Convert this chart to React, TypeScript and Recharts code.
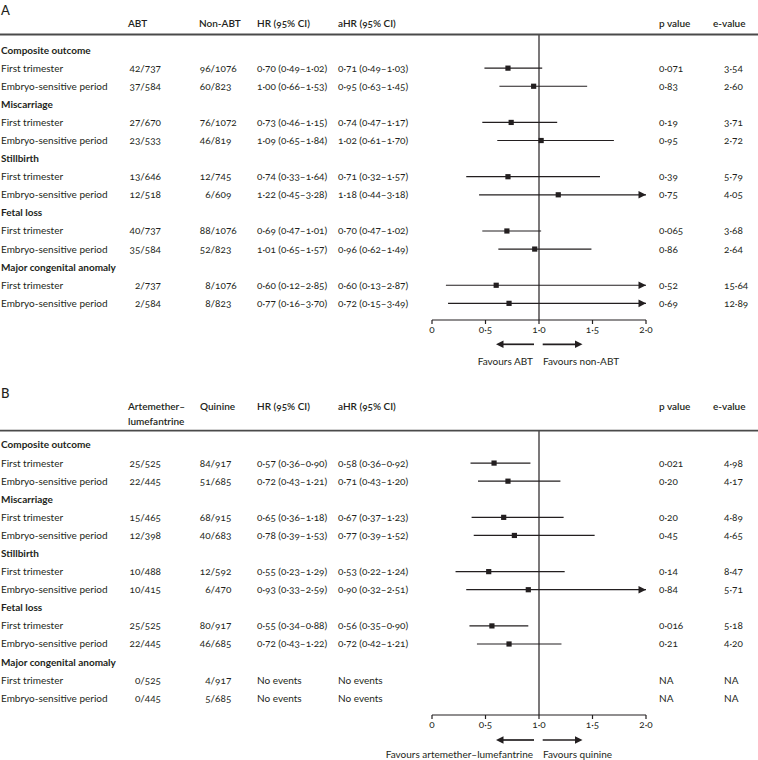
import React from 'react';
import { ComposedChart, Scatter, ErrorBar, XAxis, YAxis, ReferenceLine } from 'recharts';

// ---------- shared ----------
const outcomes = ['Composite outcome', 'Miscarriage', 'Stillbirth', 'Fetal loss', 'Major congenital anomaly'];
const periods = ['First trimester', 'Embryo-sensitive period'];
const xTicks = [0, 0.5, 1, 1.5, 2];
const X_MAX = 2;

// ---------- panel A: ABT vs non-ABT ----------
const abtEvents = ['42/737', '37/584', '27/670', '23/533', '13/646', '12/518', '40/737', '35/584', '2/737', '2/584'];
const nonAbtEvents = ['96/1076', '60/823', '76/1072', '46/819', '12/745', '6/609', '88/1076', '52/823', '8/1076', '8/823'];
const hrA = [0.70, 1.00, 0.73, 1.09, 0.74, 1.22, 0.69, 1.01, 0.60, 0.77];
const hrLoA = [0.49, 0.66, 0.46, 0.65, 0.33, 0.45, 0.47, 0.65, 0.12, 0.16];
const hrHiA = [1.02, 1.53, 1.15, 1.84, 1.64, 3.28, 1.01, 1.57, 2.85, 3.70];
const ahrA = [0.71, 0.95, 0.74, 1.02, 0.71, 1.18, 0.70, 0.96, 0.60, 0.72];
const ahrLoA = [0.49, 0.63, 0.47, 0.61, 0.32, 0.44, 0.47, 0.62, 0.13, 0.15];
const ahrHiA = [1.03, 1.45, 1.17, 1.70, 1.57, 3.18, 1.02, 1.49, 2.87, 3.49];
const pA = ['0·071', '0·83', '0·19', '0·95', '0·39', '0·75', '0·065', '0·86', '0·52', '0·69'];
const eA = ['3·54', '2·60', '3·71', '2·72', '5·79', '4·05', '3·68', '2·64', '15·64', '12·89'];

// ---------- panel B: artemether-lumefantrine vs quinine ----------
const alEvents = ['25/525', '22/445', '15/465', '12/398', '10/488', '10/415', '25/525', '22/445', '0/525', '0/445'];
const quinineEvents = ['84/917', '51/685', '68/915', '40/683', '12/592', '6/470', '80/917', '46/685', '4/917', '5/685'];
const hrB = [0.57, 0.72, 0.65, 0.78, 0.55, 0.93, 0.55, 0.72, null, null];
const hrLoB = [0.36, 0.43, 0.36, 0.39, 0.23, 0.33, 0.34, 0.43, null, null];
const hrHiB = [0.90, 1.21, 1.18, 1.53, 1.29, 2.59, 0.88, 1.22, null, null];
const ahrB = [0.58, 0.71, 0.67, 0.77, 0.53, 0.90, 0.56, 0.72, null, null];
const ahrLoB = [0.36, 0.43, 0.37, 0.39, 0.22, 0.32, 0.35, 0.42, null, null];
const ahrHiB = [0.92, 1.20, 1.23, 1.52, 1.24, 2.51, 0.90, 1.21, null, null];
const pB = ['0·021', '0·20', '0·20', '0·45', '0·14', '0·84', '0·016', '0·21', 'NA', 'NA'];
const eB = ['4·98', '4·17', '4·89', '4·65', '8·47', '5·71', '5·18', '4·20', 'NA', 'NA'];

// ---------- styling ----------
const FONT = "Lato, 'Open Sans', 'DejaVu Sans', sans-serif";
const INK = '#231f20';
const FS = 10;
const NUMSTYLE = { fontVariantNumeric: 'oldstyle-nums tabular-nums' };

const fmt = (v: number) => v.toFixed(2).replace('.', '\u00b7');
const fmtTick = (v: number) => (v === 0 ? '0' : v.toFixed(1).replace('.', '\u00b7'));
const ciText = (e: number | null, lo: number | null, hi: number | null) =>
  e == null || lo == null || hi == null ? 'No events' : `${fmt(e)} (${fmt(lo)}\u2013${fmt(hi)})`;

type Row = {
  head: boolean;
  label: string;
  g1?: string;
  g2?: string;
  hr?: string;
  ahr?: string;
  p?: string;
  e?: string;
  est?: number | null;
  lo?: number | null;
  hi?: number | null;
};

function buildRows(
  g1: string[], g2: string[],
  hr: (number | null)[], hrLo: (number | null)[], hrHi: (number | null)[],
  ahr: (number | null)[], ahrLo: (number | null)[], ahrHi: (number | null)[],
  p: string[], e: string[],
): Row[] {
  const rows: Row[] = [];
  outcomes.forEach((o, i) => {
    rows.push({ head: true, label: o });
    periods.forEach((per, j) => {
      const k = 2 * i + j;
      rows.push({
        head: false,
        label: per,
        g1: g1[k],
        g2: g2[k],
        hr: ciText(hr[k], hrLo[k], hrHi[k]),
        ahr: ciText(ahr[k], ahrLo[k], ahrHi[k]),
        p: p[k],
        e: e[k],
        est: ahr[k],
        lo: ahrLo[k],
        hi: ahrHi[k],
      });
    });
  });
  return rows;
}

const rowsA = buildRows(abtEvents, nonAbtEvents, hrA, hrLoA, hrHiA, ahrA, ahrLoA, ahrHiA, pA, eA);
const rowsB = buildRows(alEvents, quinineEvents, hrB, hrLoB, hrHiB, ahrB, ahrLoB, ahrHiB, pB, eB);

function points(rows: Row[]) {
  const pts: { x: number; y: number; err: [number, number] }[] = [];
  rows.forEach((r, i) => {
    if (!r.head && r.est != null && r.lo != null && r.hi != null) {
      pts.push({ x: r.est, y: i, err: [r.est - r.lo, Math.min(r.hi, X_MAX) - r.est] });
    }
  });
  return pts;
}
function arrows(rows: Row[]) {
  const a: { x: number; y: number }[] = [];
  rows.forEach((r, i) => {
    if (!r.head && r.hi != null && r.hi > X_MAX) a.push({ x: X_MAX, y: i });
  });
  return a;
}

const Square = (props: any) => {
  const { cx, cy } = props;
  if (cx == null || cy == null) return null;
  return <rect x={cx - 2.6} y={cy - 2.6} width={5.2} height={5.2} fill={INK} />;
};
const ArrowHead = (props: any) => {
  const { cx, cy } = props;
  if (cx == null || cy == null) return null;
  return <polygon points={`${cx - 7.5},${cy - 3.8} ${cx},${cy} ${cx - 7.5},${cy + 3.8}`} fill={INK} />;
};

// column x positions (layout)
const COL = { label: 1, g1Split: 140.3, g2Split: 210.6, hr: 257, ahr: 338, p: 659, e: 724 };

const txt = (extra: any = {}) => ({
  fontFamily: FONT,
  fontSize: FS,
  fill: INK,
  style: NUMSTYLE,
  ...extra,
});

const makeTick = (rows: Row[]) => (props: any) => {
  const { y, payload } = props;
  const r = rows[Math.round(payload.value)];
  if (!r) return <g />;
  if (r.head) {
    return (
      <g>
        <text x={COL.label} y={y} dy="0.35em" {...txt({ fontWeight: 700 })}>{r.label}</text>
      </g>
    );
  }
  const [n1, d1] = (r.g1 || '').split('/');
  const [n2, d2] = (r.g2 || '').split('/');
  return (
    <g>
      <text x={COL.label} y={y} dy="0.35em" {...txt()}>{r.label}</text>
      <text x={COL.g1Split} y={y} dy="0.35em" textAnchor="end" {...txt()}>{n1}</text>
      <text x={COL.g1Split} y={y} dy="0.35em" {...txt()}>{'/' + d1}</text>
      <text x={COL.g2Split} y={y} dy="0.35em" textAnchor="end" {...txt()}>{n2}</text>
      <text x={COL.g2Split} y={y} dy="0.35em" {...txt()}>{'/' + d2}</text>
      <text x={COL.hr} y={y} dy="0.35em" {...txt()}>{r.hr}</text>
      <text x={COL.ahr} y={y} dy="0.35em" {...txt()}>{r.ahr}</text>
      <text x={COL.p} y={y} dy="0.35em" {...txt()}>{r.p}</text>
      <text x={COL.e} y={y} dy="0.35em" {...txt()}>{r.e}</text>
    </g>
  );
};

type HeaderCol = { x: number; lines: string[] };

type PanelProps = {
  top: number;
  letter: string;
  rows: Row[];
  headers: HeaderCol[];
  headerY: number;
  ruleY: number;
  plotBottom: number;
  yDomain: [number, number];
  favLeft: string;
  favRight: string;
  arrowY: number;
  favY: number;
};

const W = 758;
const H = 380;
const PLOT_LEFT = 432;
const PLOT_RIGHT = 646;
const Y_AXIS_W = 2;
const X_AXIS_H = 20;

function Panel(p: PanelProps) {
  const pts = points(p.rows);
  const arr = arrows(p.rows);
  const rowTicks = p.rows.map((_, i) => i);
  const shaftW = 1.7;
  return (
    <div style={{ position: 'absolute', left: 0, top: p.top, width: W, height: H }}>
      <ComposedChart
        width={W}
        height={H}
        margin={{ top: p.ruleY, right: W - PLOT_RIGHT, bottom: H - p.plotBottom - X_AXIS_H, left: PLOT_LEFT - Y_AXIS_W }}
      >
        <XAxis
          type="number"
          dataKey="x"
          domain={[0, X_MAX]}
          allowDataOverflow
          ticks={xTicks}
          interval={0}
          tickFormatter={fmtTick}
          height={X_AXIS_H}
          tickSize={4}
          tickMargin={2}
          axisLine={{ stroke: INK, strokeWidth: 1.2 }}
          tickLine={{ stroke: INK, strokeWidth: 1.2 }}
          tick={{ fontFamily: FONT, fontSize: FS, fill: INK, style: NUMSTYLE }}
        />
        <YAxis
          type="number"
          dataKey="y"
          domain={p.yDomain}
          allowDataOverflow
          reversed
          ticks={rowTicks}
          interval={0}
          width={Y_AXIS_W}
          axisLine={false}
          tickLine={false}
          tick={makeTick(p.rows)}
        />
        <ReferenceLine x={1} stroke={INK} strokeWidth={1.2} />
        <Scatter data={pts} isAnimationActive={false} shape={<Square />}>
          <ErrorBar dataKey="err" direction="x" width={0} stroke={INK} strokeWidth={1.2} isAnimationActive={false} />
        </Scatter>
        <Scatter data={arr} isAnimationActive={false} shape={<ArrowHead />} />
      </ComposedChart>
      <svg
        width={W}
        height={H}
        style={{ position: 'absolute', left: 0, top: 0, pointerEvents: 'none' }}
      >
        <text x={1} y={p.headerY - 13} dy="0.35em" fontFamily={FONT} fontSize={13} fontWeight={500} fill={INK}>
          {p.letter}
        </text>
        {p.headers.map((h, i) =>
          h.lines.map((ln, j) => (
            <text key={`${i}-${j}`} x={h.x} y={p.headerY + j * 15} dy="0.35em" {...txt({ fontWeight: 600 })}>
              {ln}
            </text>
          )),
        )}
        <line x1={0} x2={W} y1={p.ruleY} y2={p.ruleY} stroke="#4a4a4a" strokeWidth={1.8} />
        {/* favours arrows */}
        <line x1={534} x2={502} y1={p.arrowY} y2={p.arrowY} stroke={INK} strokeWidth={shaftW} />
        <polygon points={`496,${p.arrowY} 503.5,${p.arrowY - 3.8} 503.5,${p.arrowY + 3.8}`} fill={INK} />
        <line x1={542.7} x2={576} y1={p.arrowY} y2={p.arrowY} stroke={INK} strokeWidth={shaftW} />
        <polygon points={`582.5,${p.arrowY} 575,${p.arrowY - 3.8} 575,${p.arrowY + 3.8}`} fill={INK} />
        <text x={533} y={p.favY} dy="0.35em" textAnchor="end" {...txt()}>{p.favLeft}</text>
        <text x={543} y={p.favY} dy="0.35em" {...txt()}>{p.favRight}</text>
      </svg>
    </div>
  );
}

const headersA: HeaderCol[] = [
  { x: 128, lines: ['ABT'] },
  { x: 199, lines: ['Non-ABT'] },
  { x: 257, lines: ['HR (95% CI)'] },
  { x: 338, lines: ['aHR (95% CI)'] },
  { x: 659, lines: ['p value'] },
  { x: 713, lines: ['e-value'] },
];
const headersB: HeaderCol[] = [
  { x: 128, lines: ['Artemether\u2013', 'lumefantrine'] },
  { x: 200, lines: ['Quinine'] },
  { x: 257, lines: ['HR (95% CI)'] },
  { x: 338, lines: ['aHR (95% CI)'] },
  { x: 659, lines: ['p value'] },
  { x: 713, lines: ['e-value'] },
];

export default function App() {
  return (
    <div style={{ position: 'absolute', left: 0, top: 0, width: 758, height: 760, background: '#fff', overflow: 'hidden' }}>
      <Panel
        top={0}
        letter="A"
        rows={rowsA}
        headers={headersA}
        headerY={23}
        ruleY={34.5}
        plotBottom={320}
        yDomain={[-0.86, 14.92]}
        favLeft="Favours ABT"
        favRight="Favours non-ABT"
        arrowY={344.3}
        favY={361.5}
      />
      <Panel
        top={380}
        letter="B"
        rows={rowsB}
        headers={headersB}
        headerY={26.7}
        ruleY={50.7}
        plotBottom={335}
        yDomain={[-0.79, 14.925]}
        favLeft={'Favours artemether\u2013lumefantrine'}
        favRight="Favours quinine"
        arrowY={360}
        favY={374}
      />
    </div>
  );
}
